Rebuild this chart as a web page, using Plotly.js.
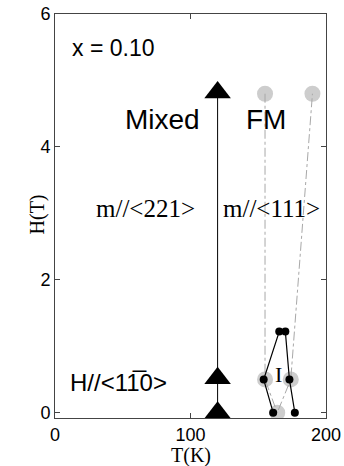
<!DOCTYPE html>
<html><head><meta charset="utf-8">
<script src="https://cdn.plot.ly/plotly-3.0.1.min.js"></script>
<style>html,body{margin:0;padding:0;background:#fff}#plot{width:344px;height:466px}</style>
</head><body><div id="plot"></div>
<script>
// Mixed / FM boundary (triangles)
const triT = [120, 120, 120];
const triH = [4.82, 0.52, 0];
// gray circles (dash-dot boundary)
const grayT = [155, 155, 164, 174, 190];
const grayH = [4.8, 0.5, 0, 0.5, 4.8];
// black dots (region I)
const dotT = [161, 154, 165.5, 170, 173, 177];
const dotH = [0, 0.5, 1.22, 1.22, 0.5, 0];

const xTicks = [0, 100, 200];
const yTicks = [0, 2, 4, 6];

const sans = 'Liberation Sans, Arial, sans-serif';
const serif = 'Liberation Serif, Times New Roman, serif';

const traces = [
  {x: grayT, y: grayH, mode: 'markers', marker: {size: 16, color: '#cdcdcd'}},
  {x: grayT, y: grayH, mode: 'lines', line: {color: '#a8a8a8', width: 1, dash: 'dashdot'}},
  {x: dotT, y: dotH, mode: 'lines+markers', line: {color: '#000', width: 1.2}, marker: {size: 8, color: '#000'}},
  {x: triT, y: triH, mode: 'lines+markers', line: {color: '#000', width: 1}, marker: {symbol: 'triangle-up', size: 23, color: '#000'}}
];

const ann = (x, y, text, size, fam) => ({x, y, text, showarrow: false, font: {size, family: fam, color: '#000'}, xanchor: 'center', yanchor: 'middle'});

const layout = {
  width: 344, height: 466,
  margin: {l: 55, r: 18, t: 14, b: 48},
  paper_bgcolor: '#fff', plot_bgcolor: '#fff',
  showlegend: false,
  xaxis: {range: [0, 200], tickvals: xTicks, ticktext: xTicks.map(String), ticks: 'inside', ticklen: 5, tickcolor: '#444',
    showline: true, linecolor: '#444', mirror: 'ticks', showgrid: false, zeroline: false,
    tickfont: {family: sans, size: 18, color: '#000'}},
  yaxis: {range: [-0.08, 6], tickvals: yTicks, ticktext: yTicks.map(String), ticks: 'inside', ticklen: 5, tickcolor: '#444',
    showline: true, linecolor: '#444', mirror: 'ticks', showgrid: false, zeroline: false,
    tickfont: {family: sans, size: 18, color: '#000'}},
  annotations: [
    ann(42.8, 5.49, 'x = 0.10', 23, sans),
    ann(79.7, 4.41, 'Mixed', 28, sans),
    ann(155.7, 4.41, 'FM', 28, sans),
    ann(67, 3.07, 'm//&lt;221&gt;', 25, serif),
    ann(160, 3.07, 'm//&lt;111&gt;', 25, serif),
    ann(47.2, 0.45, 'H//&lt;11\u03050&gt;', 24, sans),
    ann(164.6, 0.57, 'I', 22, serif),
    {xref: 'paper', yref: 'paper', x: -0.0646, y: 0.505, text: 'H(T)', textangle: -90, showarrow: false,
      font: {family: serif, size: 20, color: '#000'}, xanchor: 'center', yanchor: 'middle'},
    {xref: 'paper', yref: 'paper', x: 0.5, y: -0.094, text: 'T(K)', showarrow: false,
      font: {family: serif, size: 20, color: '#000'}, xanchor: 'center', yanchor: 'middle'}
  ]
};

Plotly.newPlot('plot', traces, layout, {displayModeBar: false, staticPlot: true});
</script></body></html>
